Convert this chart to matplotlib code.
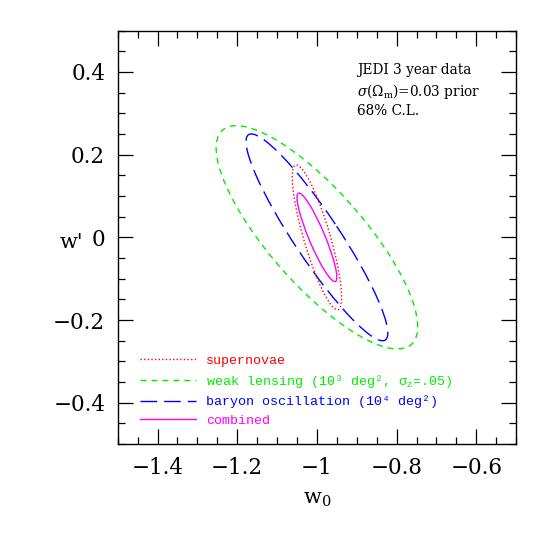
import matplotlib
matplotlib.use('Agg')
import matplotlib.pyplot as plt
import numpy as np
from matplotlib.patches import Ellipse
from matplotlib.lines import Line2D
from matplotlib.ticker import MultipleLocator, FuncFormatter

plt.rcParams['font.family'] = ['DejaVu Serif']
plt.rcParams['mathtext.fontset'] = 'dejavuserif'

# 68% C.L. ellipses: centre, half-extents along w0 and w', correlation
names = ['supernovae', 'weak lensing (10\u00b3 deg\u00b2, \u03c3$_{\\rm z}$=.05)',
         'baryon oscillation (10\u2074 deg\u00b2)', 'combined']
colors = ['#ff0000', '#00ee00', '#0000ff', '#ff00ff']
styles = [(0, (1, 1.6)), (0, (4.3, 3.6)), (0, (12, 5)), '-']
center_w0 = [-1.0, -1.0, -1.0, -1.0]
center_wa = [0.0, 0.0, 0.0, 0.0]
ext_w0 = [0.062, 0.253, 0.178, 0.050]
ext_wa = [0.175, 0.270, 0.250, 0.107]
rho = [-0.83, -0.80, -0.925, -0.90]
draw_order = [1, 2, 0, 3]

fig = plt.figure(figsize=(5.45, 5.45), dpi=100)
ax = fig.add_axes([0.216, 0.185, 0.731, 0.759])

for i in draw_order:
    cov = np.array([[ext_w0[i] ** 2, rho[i] * ext_w0[i] * ext_wa[i]],
                    [rho[i] * ext_w0[i] * ext_wa[i], ext_wa[i] ** 2]])
    vals, vecs = np.linalg.eigh(cov)
    ang = np.degrees(np.arctan2(vecs[1, 1], vecs[0, 1]))
    e = Ellipse((center_w0[i], center_wa[i]), 2 * np.sqrt(vals[1]), 2 * np.sqrt(vals[0]),
                angle=ang, fill=False, edgecolor=colors[i], lw=1.0, linestyle=styles[i])
    ax.add_patch(e)

ax.set_xlim(-1.5, -0.5)
ax.set_ylim(-0.5, 0.5)

fmt = FuncFormatter(lambda v, p: ('%g' % (round(v, 3) + 0)).replace('-', '\u2212'))
ax.xaxis.set_major_locator(MultipleLocator(0.2))
ax.xaxis.set_minor_locator(MultipleLocator(0.05))
ax.yaxis.set_major_locator(MultipleLocator(0.2))
ax.yaxis.set_minor_locator(MultipleLocator(0.05))
ax.xaxis.set_major_formatter(fmt)
ax.yaxis.set_major_formatter(fmt)
ax.tick_params(which='both', direction='in', top=True, right=True, width=0.9)
ax.tick_params(which='major', length=10.5, labelsize=15.5, pad=9)
ax.tick_params(which='minor', length=5)
for s in ax.spines.values():
    s.set_linewidth(1.0)

ax.set_xlabel('w$_0$', fontsize=15, labelpad=8)
ax.set_ylabel("w'", fontsize=15, rotation=0)
ax.yaxis.set_label_coords(-0.115, 0.465)

ax.text(0.60, 0.905, 'JEDI 3 year data', transform=ax.transAxes, fontsize=9.8, va='center')
ax.text(0.60, 0.853, '$\\sigma$($\\Omega_{\\rm m}$)=0.03 prior', transform=ax.transAxes,
        fontsize=9.8, va='center')
ax.text(0.60, 0.805, '68% C.L.', transform=ax.transAxes, fontsize=9.8, va='center')

handles = [Line2D([], [], color=colors[i], lw=1.0, linestyle=styles[i]) for i in range(4)]
leg = ax.legend(handles, names, loc='lower left', bbox_to_anchor=(0.056, 0.042),
                frameon=False, handlelength=4.2, handletextpad=0.75, labelspacing=0.45,
                borderpad=0, borderaxespad=0, labelcolor='linecolor',
                prop={'family': ['Liberation Mono', 'DejaVu Sans Mono'], 'size': 9.6})

fig.savefig('out.png', dpi=100)
